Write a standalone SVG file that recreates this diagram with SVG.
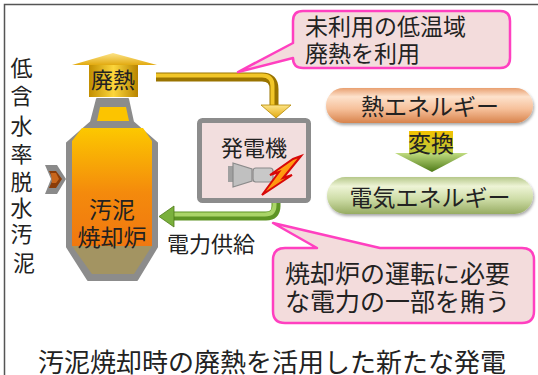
<svg xmlns="http://www.w3.org/2000/svg" width="538" height="375" viewBox="0 0 538 375">
  <style>
    text { font-family: "Noto Sans CJK JP", "Noto Sans", sans-serif; fill: #222; }
    .t22 { font-size: 22px; }
    .t23 { font-size: 23px; }
    .t25 { font-size: 25px; }
    .callout { fill: #f3dcdc; stroke: #ff40c0; stroke-width: 2.5; stroke-linejoin: round; }
  </style>
  <defs>
    <linearGradient id="bodyGrad" x1="0" y1="0" x2="0" y2="1">
      <stop offset="0" stop-color="#fcc800"/>
      <stop offset="0.55" stop-color="#f48a0c"/>
      <stop offset="1" stop-color="#f07810"/>
    </linearGradient>
    <linearGradient id="goldH" x1="0" y1="0" x2="1" y2="0">
      <stop offset="0" stop-color="#c28e00"/>
      <stop offset="0.5" stop-color="#fcd63c"/>
      <stop offset="1" stop-color="#b88400"/>
    </linearGradient>
    <linearGradient id="goldHead" x1="0" y1="0" x2="0" y2="1">
      <stop offset="0" stop-color="#fde488"/>
      <stop offset="1" stop-color="#e2aa10"/>
    </linearGradient>
    <linearGradient id="pillHeat" x1="0" y1="0" x2="0" y2="1">
      <stop offset="0" stop-color="#e9a070"/>
      <stop offset="0.25" stop-color="#fde2cc"/>
      <stop offset="0.6" stop-color="#f6c09a"/>
      <stop offset="1" stop-color="#d8834c"/>
    </linearGradient>
    <linearGradient id="pillElec" x1="0" y1="0" x2="0" y2="1">
      <stop offset="0" stop-color="#b6c88a"/>
      <stop offset="0.25" stop-color="#eef4d6"/>
      <stop offset="0.6" stop-color="#cddca6"/>
      <stop offset="1" stop-color="#97ac62"/>
    </linearGradient>
    <linearGradient id="shaft" x1="0" y1="0" x2="0" y2="1">
      <stop offset="0" stop-color="#f3c200"/>
      <stop offset="1" stop-color="#b8c840"/>
    </linearGradient>
    <linearGradient id="greenHead" x1="0" y1="0" x2="0" y2="1">
      <stop offset="0" stop-color="#c0dc80"/>
      <stop offset="1" stop-color="#4e7a18"/>
    </linearGradient>
    <linearGradient id="boltGrad" x1="0" y1="0" x2="1" y2="1">
      <stop offset="0" stop-color="#ffd020"/>
      <stop offset="1" stop-color="#ff6000"/>
    </linearGradient>
    <filter id="soft" x="-10%" y="-20%" width="120%" height="150%">
      <feGaussianBlur in="SourceAlpha" stdDeviation="1.5"/>
      <feOffset dx="1" dy="2"/>
      <feComponentTransfer><feFuncA type="linear" slope="0.35"/></feComponentTransfer>
      <feMerge><feMergeNode/><feMergeNode in="SourceGraphic"/></feMerge>
    </filter>
  </defs>

  <!-- outer frame -->
  <rect x="4.5" y="4.5" width="600" height="420" fill="#fff" stroke="#555" stroke-width="1.5"/>

  <!-- feed label (vertical) -->
  <g id="feed-label">
    <text class="t22" text-anchor="middle">
      <tspan x="24" y="76">低</tspan>
      <tspan x="24" y="104">含</tspan>
      <tspan x="24" y="134">水</tspan>
      <tspan x="24" y="162">率</tspan>
      <tspan x="24" y="190">脱</tspan>
      <tspan x="24" y="216">水</tspan>
      <tspan x="24" y="242">汚</tspan>
      <tspan x="24" y="271">泥</tspan>
    </text>
  </g>

  <g id="connectors">
    <!-- sludge feed arrow -->
    <polygon points="45,165 57,165 66,179 57,194 45,194 51,179" fill="#8a8a8a"/>
    <polygon points="49,171 56,171 62,179 56,188 49,188 53,179" fill="#8a3c08"/>
    <polygon points="51,173 56,173 59,179 56,183 52,183" fill="#c8661c"/>

    <!-- waste heat pipe to generator -->
    <path d="M156,77 H262 Q274,77 274,89 V106" fill="none" stroke="#9a7400" stroke-width="9"/>
    <path d="M156,75.5 H262 Q272.5,75.5 272.5,86 V106" fill="none" stroke="#f2c628" stroke-width="4"/>
    <polygon points="261,105 291,105 276,118" fill="url(#goldHead)" stroke="#b48800" stroke-width="0.8"/>

    <!-- power supply pipe back to furnace -->
    <path d="M276,202 V206 Q276,216 266,216 H172" fill="none" stroke="#5e9424" stroke-width="9"/>
    <path d="M274.5,202 V205 Q274.5,214.5 265,214.5 H172" fill="none" stroke="#aad468" stroke-width="4"/>
    <polygon points="174,206 174,227 159,216.5" fill="#7ab03c" stroke="#4e7a18" stroke-width="0.8"/>
  </g>

  <!-- incinerator -->
  <g id="incinerator">
    <path d="M97,99 H128 L133,122 L157,143 V247 L137,280 H88 L67,247 V143 L91,122 Z" fill="#8c8c8c" stroke="#8c8c8c" stroke-width="2" stroke-linejoin="round"/>
    <polygon points="100,107 126,107 129,121 97,121" fill="#fcc400"/>
    <polygon points="82,128 143,128 152,141 152,246 92,246 72,246 72,141" fill="url(#bodyGrad)"/>
    <polygon points="72,246 152,246 134,274 92,274" fill="#a39462"/>
    <text class="t23" x="112" y="218" text-anchor="middle">汚泥</text>
    <text class="t23" x="112" y="246" text-anchor="middle">焼却炉</text>
  </g>

  <!-- waste heat up arrow -->
  <g id="waste-heat">
    <polygon points="72,65 113,53 157,65" fill="url(#goldHead)"/>
    <rect x="89" y="65" width="49" height="32" fill="url(#goldH)"/>
    <text class="t22" x="113" y="88" text-anchor="middle">廃熱</text>
  </g>

  <!-- generator -->
  <g id="generator">
    <rect x="199.5" y="120.5" width="109" height="80" rx="3" fill="#f2dede" stroke="#8c8c8c" stroke-width="5"/>
    <text class="t22" x="254" y="156" text-anchor="middle">発電機</text>
    <rect x="228" y="166" width="5" height="16" fill="#a0a0a0"/>
    <polygon points="233,163 252,169 252,181 233,187" fill="#c0c0c0" stroke="#8a8a8a" stroke-width="1.2"/>
    <rect x="253" y="168" width="20" height="14" rx="3" fill="#c8c8c8" stroke="#8a8a8a" stroke-width="1.2"/>
    <path d="M301,156 L283,178 L292,175 L262,195 L279,172 L270,175 L293,159 Z" fill="url(#boltGrad)" stroke="#d80808" stroke-width="2" stroke-linejoin="miter"/>
  </g>

  <text class="t22" x="167" y="252">電力供給</text>

  <!-- callout: low-temperature waste heat -->
  <g id="callout-heat">
    <path class="callout" d="M303,11 H500 Q510,11 510,21 V58 Q510,68 500,68 H303 Q293,68 293,58 L238,72 L293,43 V21 Q293,11 303,11 Z"/>
    <text class="t23" x="305" y="35">未利用の低温域</text>
    <text class="t23" x="305" y="62">廃熱を利用</text>
  </g>

  <!-- callout: power for operation -->
  <g id="callout-power">
    <path class="callout" d="M285,248 H317 L273,223 L380,248 H522 Q534,248 534,260 V311 Q534,323 522,323 H285 Q273,323 273,311 V260 Q273,248 285,248 Z"/>
    <text class="t25" x="285" y="283">焼却炉の運転に必要</text>
    <text class="t25" x="285" y="311">な電力の一部を賄う</text>
  </g>

  <!-- energy conversion -->
  <g id="heat-energy">
    <rect x="326" y="88" width="207" height="35" rx="17.5" fill="url(#pillHeat)" filter="url(#soft)"/>
    <text class="t23" x="430" y="115" text-anchor="middle">熱エネルギー</text>
  </g>
  <g id="conversion">
    <rect x="409" y="131" width="44" height="23" fill="url(#shaft)"/>
    <polygon points="395,153 468,153 432,172" fill="url(#greenHead)"/>
    <text class="t23" x="431" y="152" text-anchor="middle">変換</text>
  </g>
  <g id="electric-energy">
    <rect x="327" y="177" width="206" height="37" rx="18.5" fill="url(#pillElec)" filter="url(#soft)"/>
    <text class="t23" x="430" y="206" text-anchor="middle">電気エネルギー</text>
  </g>

  <!-- caption -->
  <text x="38" y="372" style="font-size:26px">汚泥焼却時の廃熱を活用した新たな発電</text>
</svg>
